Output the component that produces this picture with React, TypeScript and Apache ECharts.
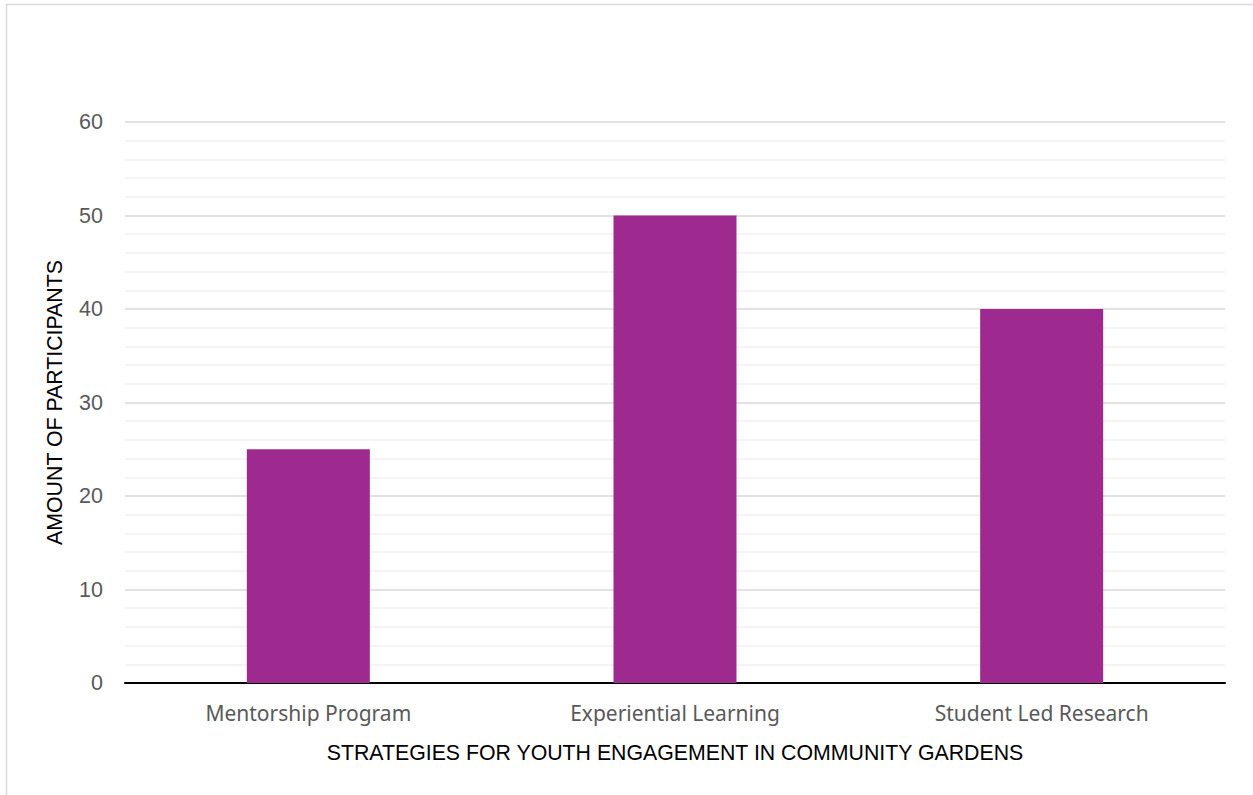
import React, { useEffect, useRef } from "react";
import * as echarts from "echarts";

const categories = ["Mentorship Program", "Experiential Learning", "Student Led Research"];
const participants = [25, 50, 40];
const yTicks = [0, 10, 20, 30, 40, 50, 60];

export default function App() {
  const ref = useRef<HTMLDivElement>(null);
  useEffect(() => {
    if (!ref.current) return;
    const chart = echarts.init(ref.current, undefined, { renderer: "svg" });
    chart.setOption({
      animation: false,
      backgroundColor: "#ffffff",
      graphic: [
        {
          type: "rect",
          shape: { x: 6.5, y: 4.5, width: 1260, height: 800 },
          style: { fill: "none", stroke: "#d9d9d9", lineWidth: 1.5 },
          z: -1,
        },
      ],
      grid: { left: 125, right: 28, top: 122, bottom: 112, containLabel: false },
      xAxis: {
        type: "category",
        data: categories,
        axisLine: { lineStyle: { color: "#000000", width: 2 } },
        axisTick: { show: false },
        axisLabel: {
          color: "#595959",
          fontSize: 21,
          fontFamily: "Noto Sans",
          margin: 19,
        },
        name: "STRATEGIES FOR YOUTH ENGAGEMENT IN COMMUNITY GARDENS",
        nameLocation: "middle",
        nameGap: 59,
        nameTextStyle: { color: "#000000", fontSize: 21.3, fontFamily: "Liberation Sans" },
      },
      yAxis: {
        type: "value",
        min: yTicks[0],
        max: yTicks[yTicks.length - 1],
        interval: 10,
        axisLine: { show: false },
        axisTick: { show: false },
        axisLabel: {
          color: "#595959",
          fontSize: 21.5,
          fontFamily: "Liberation Sans",
          margin: 22,
        },
        splitLine: { lineStyle: { color: "#d9d9d9", width: 1.5 } },
        minorTick: { show: false, splitNumber: 5 },
        minorSplitLine: { show: true, lineStyle: { color: "#f0f0f0", width: 1.5 } },
        name: "AMOUNT OF PARTICIPANTS",
        nameLocation: "middle",
        nameGap: 60,
        nameRotate: 90,
        nameTextStyle: { color: "#000000", fontSize: 21.3, fontFamily: "Liberation Sans" },
      },
      series: [
        {
          type: "bar",
          data: participants,
          barWidth: 123,
          itemStyle: { color: "#9e2a8f" },
        },
      ],
    });
    return () => chart.dispose();
  }, []);
  return (
    <div
      ref={ref}
      style={{ position: "fixed", left: 0, top: 0, width: 1253, height: 795 }}
    />
  );
}
